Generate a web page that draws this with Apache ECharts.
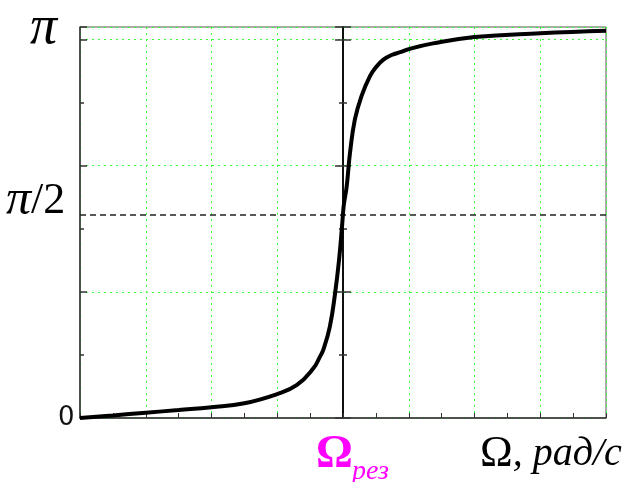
<!DOCTYPE html>
<html>
<head>
<meta charset="utf-8">
<script src="https://cdn.jsdelivr.net/npm/echarts@6/dist/echarts.min.js"></script>
<style>
  html, body { margin: 0; padding: 0; background: #fff; }
  #chart { width: 628px; height: 482px; }
</style>
</head>
<body>
<div id="chart"></div>
<script>
// phase curve (x in axis units, resonance at 4)
const omega = [0, 0.5, 1, 1.5, 2, 2.5, 3, 3.3, 3.55, 3.65, 3.7, 3.8, 3.88, 3.94, 3.985, 4.0, 4.015, 4.056, 4.106, 4.18, 4.28, 4.41, 4.5, 4.61, 4.75, 4.87, 5.0, 5.37, 6, 7, 8];
const phase = [0, 0.02, 0.042, 0.063, 0.085, 0.117, 0.19, 0.262, 0.394, 0.487, 0.54, 0.725, 0.99, 1.254, 1.518, 1.62, 1.70, 1.836, 2.10, 2.365, 2.55, 2.71, 2.78, 2.84, 2.88, 2.9, 2.925, 2.97, 3.02, 3.05, 3.07];
const halfPi = 1.615;
const yLabels = ["0", "π/2", "π"];

var dom = document.getElementById("chart");
var myChart = echarts.init(dom, null, { renderer: "canvas" });

var green = "#3cff3c";
var serif = "Liberation Serif";

// center axis (at resonance) drawn twice so ticks cross it on both sides
function centerAxis(pos) {
  return {
    type: "value",
    min: 0,
    max: 3.1,
    interval: 1,
    position: pos,
    offset: -263,
    axisLine: { show: true, lineStyle: { color: "#000", width: 1.5 } },
    axisTick: { show: true, inside: true, length: 8, lineStyle: { color: "#333", width: 1.5 } },
    minorTick: { show: true, splitNumber: 2, length: 4, lineStyle: { color: "#333", width: 1.5 } },
    axisLabel: { show: false },
    splitLine: { show: false },
  };
}

var option = {
  animation: false,
  grid: {
    left: 80,
    right: 22,
    top: 27,
    bottom: 64,
    show: true,
    borderColor: "#555",
    borderWidth: 1,
  },
  xAxis: {
    type: "value",
    min: 0,
    max: 8,
    interval: 1,
    axisLine: { show: true, onZero: false, lineStyle: { color: "#333", width: 1.5 } },
    axisTick: { show: true, inside: true, length: 5, lineStyle: { color: "#333" } },
    minorTick: { show: true, splitNumber: 2, length: 5, lineStyle: { color: "#333" } },
    axisLabel: { show: false },
    splitLine: { show: true, lineStyle: { color: green, type: [2, 4], width: 1 } },
  },
  yAxis: [
    {
      type: "value",
      min: 0,
      max: 3.1,
      interval: 1,
      axisLine: { show: true, lineStyle: { color: "#333", width: 1.5 } },
      axisTick: { show: true, inside: true, length: 7, lineStyle: { color: "#333", width: 1.5 } },
      minorTick: { show: true, splitNumber: 2, length: 4, lineStyle: { color: "#333", width: 1.5 } },
      axisLabel: { show: false },
      splitLine: { show: true, lineStyle: { color: green, type: [2, 4], width: 1 } },
    },
    centerAxis("left"),
    centerAxis("right"),
  ],
  series: [
    {
      type: "line",
      data: omega.map((x, i) => [x, phase[i]]),
      smooth: 0.45,
      showSymbol: false,
      lineStyle: { color: "#000", width: 4 },
      z: 5,
      markLine: {
        silent: true,
        symbol: "none",
        label: { show: false },
        lineStyle: { color: "#222", type: [6, 4], width: 1.5 },
        data: [{ yAxis: halfPi }],
      },
    },
  ],
  graphic: [
    {
      type: "text",
      left: 30,
      top: 2,
      style: {
        text: "{p|" + yLabels[2] + "}",
        rich: { p: { font: "italic 54px " + serif, fill: "#000" } },
      },
    },
    {
      type: "text",
      left: 6,
      top: 176,
      style: {
        text: "{p|π}{s|/2}",
        rich: {
          p: { font: "italic 50px " + serif, fill: "#000" },
          s: { font: "44px " + serif, fill: "#000" },
        },
      },
    },
    {
      type: "text",
      left: 58,
      top: 405,
      style: { text: yLabels[0], font: "26px 'DejaVu Sans'", fill: "#111" },
    },
    {
      type: "text",
      left: 316,
      top: 432,
      style: { text: "Ω", font: "bold 46px " + serif, fill: "#ff00ff" },
    },
    {
      type: "text",
      left: 352,
      top: 458,
      style: { text: "рез", font: "italic 28px " + serif, fill: "#ff00ff" },
    },
    {
      type: "text",
      left: 480,
      top: 432,
      style: {
        text: "{o|Ω}{s|, рад/с}",
        rich: {
          o: { font: "44px " + serif, fill: "#000" },
          s: { font: "italic 40px " + serif, fill: "#000" },
        },
      },
    },
  ],
};

myChart.setOption(option);
window.addEventListener("resize", myChart.resize);
</script>
</body>
</html>
